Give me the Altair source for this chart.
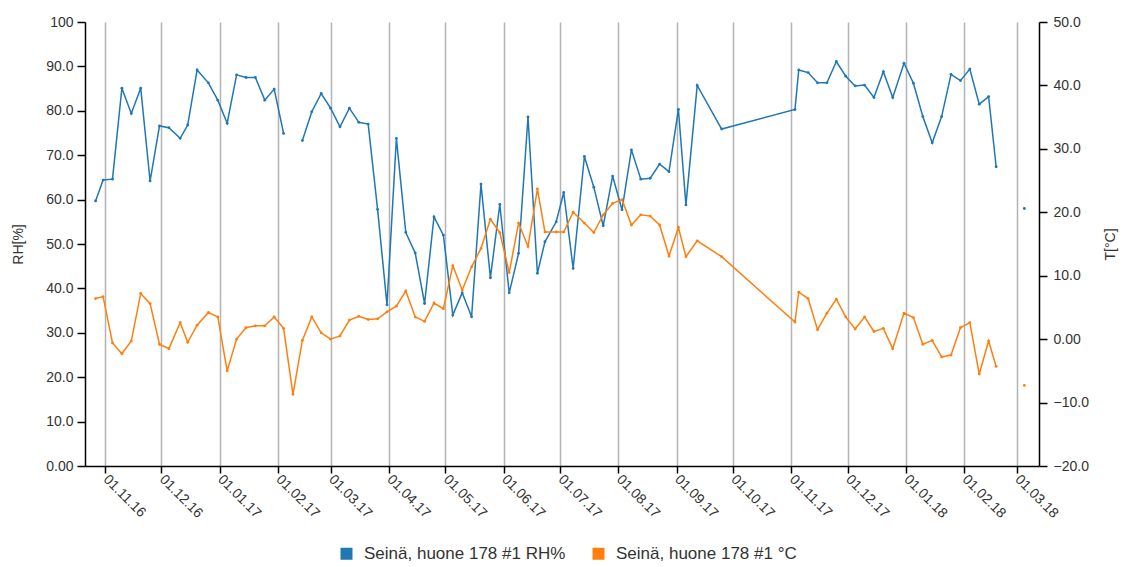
import altair as alt
import pandas as pd

RH_NAME = "Seinä, huone 178 #1 RH%"
T_NAME = "Seinä, huone 178 #1 °C"

dates = [
    "2016-10-27", "2016-10-31", "2016-11-05", "2016-11-10", "2016-11-15", "2016-11-20",
    "2016-11-25", "2016-11-30", "2016-12-05", "2016-12-11", "2016-12-15", "2016-12-20",
    "2016-12-26", "2016-12-31", "2017-01-05", "2017-01-10", "2017-01-15", "2017-01-20",
    "2017-01-25", "2017-01-30", "2017-02-04", "2017-02-09", "2017-02-14", "2017-02-19",
    "2017-02-24", "2017-03-01", "2017-03-06", "2017-03-11", "2017-03-16", "2017-03-21",
    "2017-03-26", "2017-03-31", "2017-04-05", "2017-04-10", "2017-04-15", "2017-04-20",
    "2017-04-25", "2017-04-30", "2017-05-05", "2017-05-10", "2017-05-15", "2017-05-20",
    "2017-05-25", "2017-05-30", "2017-06-04", "2017-06-09", "2017-06-14", "2017-06-19",
    "2017-06-23", "2017-06-29", "2017-07-03", "2017-07-08", "2017-07-14", "2017-07-19",
    "2017-07-24", "2017-07-29", "2017-08-03", "2017-08-08", "2017-08-13", "2017-08-18",
    "2017-08-23", "2017-08-28", "2017-09-02", "2017-09-06", "2017-09-12", "2017-09-25",
    "2017-11-03", "2017-11-05", "2017-11-10", "2017-11-15", "2017-11-20", "2017-11-25",
    "2017-11-30", "2017-12-05", "2017-12-10", "2017-12-15", "2017-12-20", "2017-12-25",
    "2017-12-31", "2018-01-05", "2018-01-10", "2018-01-15", "2018-01-20", "2018-01-25",
    "2018-01-30", "2018-02-04", "2018-02-09", "2018-02-14", "2018-02-18", "2018-02-25",
    "2018-03-05",
]

rh = [
    59.7, 64.4, 64.6, 85.1, 79.4, 85.1,
    64.2, 76.6, 76.2, 73.8, 76.8, 89.2,
    86.3, 82.4, 77.2, 88.1, 87.5, 87.5,
    82.4, 84.9, 74.9, None, 73.3, 79.8,
    83.9, 80.6, 76.4, 80.6, 77.4, 77.0,
    57.8, 36.3, 73.8, 52.6, 48.0, 36.6,
    56.1, 52.0, 34.0, 39.0, 33.6, 63.5,
    42.4, 58.9, 39.0, 47.9, 78.6, 43.4,
    50.5, 55.0, 61.6, 44.5, 69.7, 62.8,
    54.1, 65.3, 57.7, 71.2, 64.6, 64.8,
    68.0, 66.3, 80.3, 58.8, 85.7, 75.9,
    80.3, 89.2, 88.6, 86.3, 86.3, 91.1,
    87.8, 85.6, 85.8, 83.0, 88.8, 83.0,
    90.7, 86.2, 78.7, 72.8, 78.7, 88.2,
    86.8, 89.4, 81.5, 83.2, 67.4, None,
    58.0,
]

temp = [
    6.4, 6.7, -0.6, -2.3, -0.3, 7.2,
    5.6, -0.8, -1.5, 2.6, -0.5, 2.2,
    4.2, 3.5, -5.0, 0.0, 1.8, 2.1,
    2.1, 3.5, 1.7, -8.7, -0.2, 3.5,
    1.0, 0.0, 0.5, 3.0, 3.6, 3.1,
    3.2, 4.3, 5.2, 7.6, 3.5, 2.8,
    5.7, 4.8, 11.6, 7.7, 11.4, 14.3,
    18.9, 16.8, 10.5, 18.3, 14.6, 23.7,
    16.9, 16.9, 16.9, 20.0, 18.3, 16.8,
    19.6, 21.4, 22.0, 18.0, 19.6, 19.4,
    18.0, 13.1, 17.6, 13.0, 15.5, 13.0,
    2.7, 7.4, 6.4, 1.5, 4.1, 6.3,
    3.5, 1.6, 3.5, 1.2, 1.7, -1.5,
    4.1, 3.4, -0.8, -0.2, -2.8, -2.5,
    1.8, 2.6, -5.5, -0.3, -4.3, None,
    -7.3,
]

rh_ticks = [0, 10, 20, 30, 40, 50, 60, 70, 80, 90, 100]
t_ticks = [-20, -10, 0, 10, 20, 30, 40, 50]

long = pd.concat([
    pd.DataFrame({"date": dates, "series": RH_NAME, "value": rh}),
    pd.DataFrame({"date": dates, "series": T_NAME, "value": temp}),
], ignore_index=True)

FONT = "Arial"
LABEL_COLOR = "#333333"
NUM_LABEL = "datum.value == 0 ? '0.00' : format(datum.value, '.3r')"

x_enc = alt.X(
    "date:T",
    scale=alt.Scale(
        type="utc",
        domain=[
            alt.DateTime(year=2016, month=10, date=21, hours=9, utc=True),
            alt.DateTime(year=2018, month=3, date=12, hours=19, utc=True),
        ],
    ),
    axis=alt.Axis(
        title=None,
        labelExpr="utcFormat(datum.value, '%d.%m.%y')",
        tickCount={"interval": "month", "step": 1},
        labelAngle=45,
        labelAlign="left",
        labelBaseline="middle",
        labelFlush=False,
        labelOverlap=False,
        labelFontSize=14,
        labelFont=FONT,
        labelColor=LABEL_COLOR,
        labelPadding=4,
        grid=True,
        gridColor="#b3b3b3",
        gridWidth=1.5,
        domainColor="#000000",
        domainWidth=1.5,
        tickColor="#000000",
        tickWidth=1.5,
        tickSize=7,
    ),
)

color_enc = alt.Color(
    "series:N",
    scale=alt.Scale(domain=[RH_NAME, T_NAME], range=["#1f77b4", "#ff7f0e"]),
    legend=alt.Legend(
        title=None,
        orient="none",
        legendX=253,
        legendY=523,
        direction="horizontal",
        symbolType="square",
        symbolSize=16,
        symbolStrokeWidth=8,
        symbolOpacity=1,
        labelFontSize=17,
        labelFont=FONT,
        labelColor=LABEL_COLOR,
        labelLimit=400,
        labelOffset=9,
        columnPadding=14,
    ),
)

base = alt.Chart(long).encode(x=x_enc, color=color_enc)

line_kw = dict(
    strokeWidth=1.5,
    point=alt.OverlayMarkDef(size=8, filled=True, opacity=1),
    invalid="break-paths-filter-domains",
)

rh_layer = base.transform_filter(alt.datum.series == RH_NAME).mark_line(**line_kw).encode(
    y=alt.Y(
        "value:Q",
        scale=alt.Scale(domain=[0, 100], nice=False, zero=False),
        axis=alt.Axis(
            orient="left",
            values=rh_ticks,
            labelExpr=NUM_LABEL,
            title="RH[%]",
            titleFont=FONT,
            titleFontSize=14,
            titleFontWeight="normal",
            titleColor=LABEL_COLOR,
            titleAngle=270,
            titleX=-67,
            titleY=222,
            titleAlign="center",
            titleBaseline="middle",
            labelFontSize=14,
            labelFont=FONT,
            labelColor=LABEL_COLOR,
            labelPadding=4,
            grid=False,
            domainColor="#000000",
            domainWidth=1.5,
            tickColor="#000000",
            tickWidth=1.5,
            tickSize=8,
        ),
    )
)

t_layer = base.transform_filter(alt.datum.series == T_NAME).mark_line(**line_kw).encode(
    y=alt.Y(
        "value:Q",
        scale=alt.Scale(domain=[-20, 50], nice=False, zero=False),
        axis=alt.Axis(
            orient="right",
            values=t_ticks,
            labelExpr=NUM_LABEL,
            title="T[°C]",
            titleFont=FONT,
            titleFontSize=14,
            titleFontWeight="normal",
            titleColor=LABEL_COLOR,
            titleAngle=270,
            titleX=71,
            titleY=222,
            titleAlign="center",
            titleBaseline="middle",
            labelFontSize=14,
            labelFont=FONT,
            labelColor=LABEL_COLOR,
            labelPadding=6,
            grid=False,
            domainColor="#000000",
            domainWidth=1.5,
            tickColor="#000000",
            tickWidth=1.5,
            tickSize=8,
        ),
    )
)

chart = (
    alt.layer(rh_layer, t_layer)
    .resolve_scale(y="independent")
    .properties(
        width=954,
        height=444,
        autosize=alt.AutoSizeParams(type="none"),
        padding={"left": 77, "top": 14, "right": 84, "bottom": 100},
    )
    .configure(font=FONT)
    .configure_view(stroke=None)
)

chart.save("out.html", embed_options={"renderer": "svg", "actions": False})
